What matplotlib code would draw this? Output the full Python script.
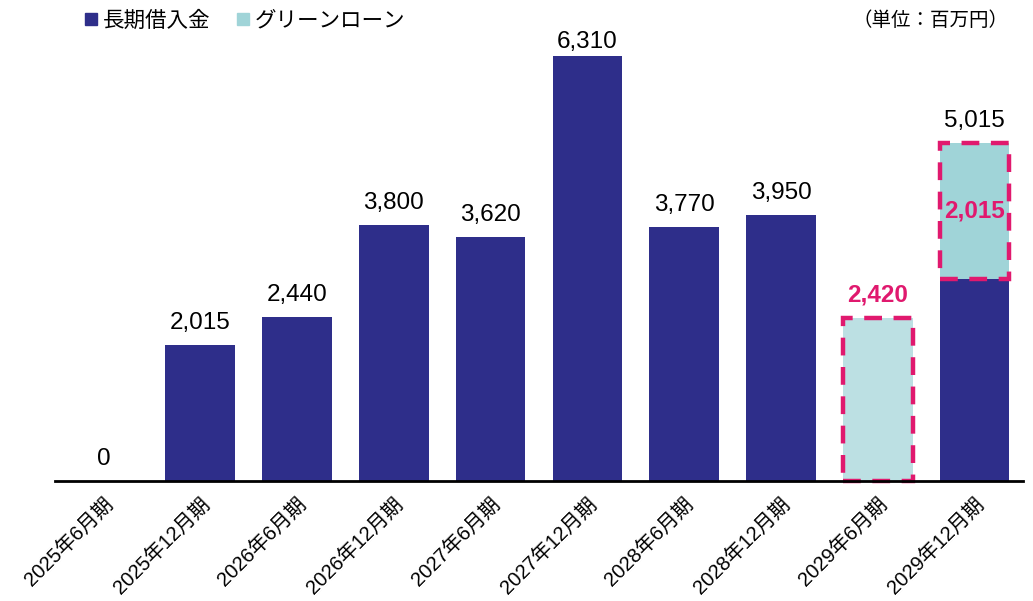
import matplotlib
matplotlib.use("Agg")
import matplotlib.pyplot as plt
from matplotlib.lines import Line2D

categories = ['2025年6月期', '2025年12月期', '2026年6月期', '2026年12月期', '2027年6月期',
              '2027年12月期', '2028年6月期', '2028年12月期', '2029年6月期', '2029年12月期']
long_term = [0, 2015, 2440, 3800, 3620, 6310, 3770, 3950, 0, 3000]
green_loan = [0, 0, 0, 0, 0, 0, 0, 0, 2420, 2015]
legend_labels = ['長期借入金', 'グリーンローン']
unit_label = '（単位：百万円）'

FAM = ['Liberation Sans', 'Noto Sans CJK JP', 'DejaVu Sans']
JFAM = ['Noto Sans CJK JP', 'DejaVu Sans']
plt.rcParams['font.family'] = FAM

NAVY = '#2E2E8A'
GREEN = '#A0D4D8'
GREEN_LIGHT = '#BCE0E3'
MAGENTA = '#E0196E'

fig = plt.figure(figsize=(10.33, 6.01), dpi=100)
ax = fig.add_axes([55/1033, 120/601, 968/1033, 441/601])

x = list(range(len(categories)))
width = 0.72
ax.bar(x, long_term, width=width, color=NAVY, zorder=2)

green_colors = [GREEN_LIGHT if lt == 0 else GREEN for lt in long_term]
for i, (lt, g) in enumerate(zip(long_term, green_loan)):
    if g > 0:
        ax.bar(i, g, width=width, bottom=lt, color=green_colors[i], zorder=2)
        ax.bar(i, g, width=width, bottom=lt, facecolor='none', edgecolor=MAGENTA,
               linewidth=3.2, linestyle=(0, (4, 2.6)), zorder=3, clip_on=False)

ax.set_xlim(-0.5, len(categories) - 0.5)
ax.set_ylim(0, 441 / 0.06735)

totals = [lt + g for lt, g in zip(long_term, green_loan)]
max_total = max(totals)
# labels
for i, (lt, g) in enumerate(zip(long_term, green_loan)):
    total = lt + g
    off = 2 if total == max_total else 8
    if lt == 0 and g > 0:
        ax.annotate(f'{total:,}', (i, total), xytext=(0, off), textcoords='offset points',
                    ha='center', va='bottom', fontsize=17.5, color=MAGENTA, fontweight='bold')
    else:
        ax.annotate(f'{total:,}', (i, total), xytext=(0, off), textcoords='offset points',
                    ha='center', va='bottom', fontsize=17.5, color='black', annotation_clip=False)
    if lt > 0 and g > 0:
        ax.text(i, lt + g / 2, f'{g:,}', ha='center', va='center', fontsize=17.5,
                color=MAGENTA, fontweight='bold', zorder=4)

for s in ['top', 'right', 'left']:
    ax.spines[s].set_visible(False)
ax.spines['bottom'].set_linewidth(2)
ax.spines['bottom'].set_color('black')
ax.spines['bottom'].set_zorder(5)
ax.set_yticks([])
ax.set_xticks(x)
ax.set_xticklabels(categories, rotation=45, ha='right', rotation_mode='anchor', fontsize=14.5)
ax.tick_params(axis='x', length=0, pad=10)

handles = [Line2D([], [], marker='s', linestyle='none', markersize=8, color=NAVY),
           Line2D([], [], marker='s', linestyle='none', markersize=8, color=GREEN)]
leg = fig.legend(handles, legend_labels, loc='upper left', bbox_to_anchor=(72/1033, 1.005),
                 ncol=2, frameon=False, handlelength=0.6, handletextpad=0.25, columnspacing=1.2,
                 prop={'family': JFAM, 'size': 15.5}, borderaxespad=0.2)

fig.text(1008/1033, 1 - 20/601, unit_label, ha='right', va='center', fontsize=14, family=JFAM)

fig.savefig('out.png', dpi=100)
